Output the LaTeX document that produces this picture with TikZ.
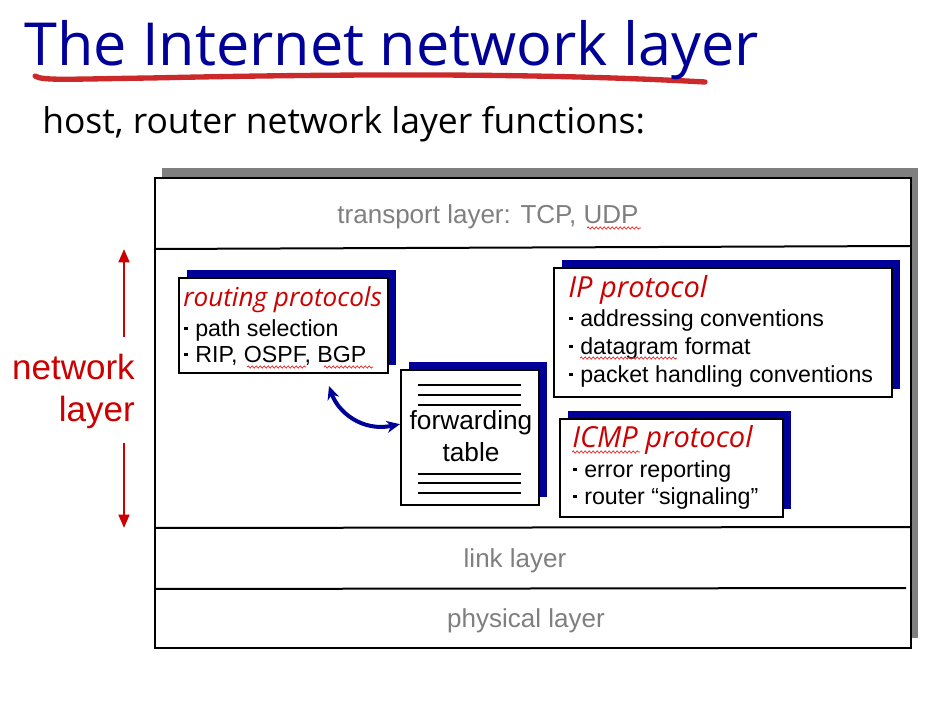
\documentclass[tikz,border=0pt]{standalone}
\usepackage{fontspec}
\setmainfont{Liberation Sans}
\newfontfamily\titlefont{Open Sans}
\usetikzlibrary{shadows,fit,decorations.pathmorphing,arrows.meta}
\definecolor{navy}{HTML}{000099}
\definecolor{netred}{HTML}{CC0000}
\definecolor{brushred}{HTML}{CC2A2A}
\definecolor{layergray}{HTML}{7F7F7F}
\definecolor{spellred}{HTML}{EE1111}
% small raised square bullet in front of each list entry
\newcommand{\bul}{\makebox[0.52em][l]{\hspace{0.05em}\raisebox{0.3em}{\rule{0.14em}{0.14em}}}}
\tikzset{
  x=0.75pt, y=-0.75pt,
  boxframe/.style={draw=black, line width=1.5pt, fill=white, inner sep=0pt},
  stackbox/.style={boxframe, drop shadow={shadow xshift=5.25pt, shadow yshift=7.5pt, fill=layergray, opacity=1}},
  protobox/.style={boxframe, drop shadow={shadow xshift=6pt, shadow yshift=6pt, fill=navy, opacity=1}},
  layertext/.style={anchor=base, inner sep=0pt, text=layergray, font=\fontsize{19.5}{20}\selectfont},
  headtext/.style={anchor=base west, inner sep=0pt, text=netred, font=\titlefont\itshape\fontsize{21.75}{22}\selectfont},
  itemtext/.style={anchor=base west, inner sep=0pt, font=\fontsize{17.4}{18}\selectfont},
  ftline/.style={line width=1.5pt},
  spell/.style={draw=spellred, line width=0.5pt, decorate, decoration={snake, amplitude=0.8pt, segment length=3pt}},
  netarrow/.style={draw=netred, line width=2pt, -{Triangle[length=10pt,width=8pt]}},
  linkarrow/.style={draw=navy, line width=3pt, {Stealth[length=10pt,width=9pt]}-{Stealth[length=10pt,width=9pt]}},
}
\begin{document}
\begin{tikzpicture}
\useasboundingbox[fill=white] (0,0) rectangle (951,702);

% heading with its brush underline
\draw[brushred, line width=4pt, line cap=round] (35,76) .. controls (42,81) and (70,79) .. (150,78) .. controls (380,73) and (560,74) .. (705,82);
\node[anchor=base west, inner sep=0pt, text=navy, font=\titlefont\fontsize{44.5}{46}\selectfont] (title) at (24,66) {The Internet network layer};
\node[anchor=base west, inner sep=0pt, font=\titlefont\fontsize{26.6}{28}\selectfont] (subtitle) at (42,134) {host, router network layer functions:};

% protocol stack
\node[stackbox, fit={(155,178) (911,648)}] (stack) {};
\draw[line width=1.5pt] (155,249) -- (911,246);
\draw[line width=1.5pt] (155,528) -- (911,527);
\draw[line width=1.5pt] (155,589) -- (906,588);

\node[layertext] (transport) at (488,224) {transport layer: TCP, UDP};
\draw[spell] (587,228) -- (641,228);
\node[layertext] (link) at (515,568) {link layer};
\node[layertext] (physical) at (526,628) {physical layer};

% extent of the network layer
\node[anchor=base east, inner sep=0pt, text=netred, font=\fontsize{26.25}{30}\selectfont] (netword) at (135,380) {network};
\node[anchor=base east, inner sep=0pt, text=netred, font=\fontsize{26.25}{30}\selectfont] (layerword) at (135,422) {layer};
\coordinate (upTop) at (124,249);
\coordinate (upBot) at (124,337);
\coordinate (dnTop) at (124,443);
\coordinate (dnBot) at (124,528);
\draw[netarrow] (upBot) -- (upTop);
\draw[netarrow] (dnTop) -- (dnBot);

% routing protocols
\node[protobox, fit={(179,278) (388,373)}] (routing) {};
\node[headtext, font=\titlefont\itshape\fontsize{19.6}{20}\selectfont] (rphead) at (183,307) {routing protocols};
\node[itemtext] (rp1) at (183,337) {\bul path selection};
\node[itemtext] (rp2) at (183,363) {\bul RIP, OSPF, BGP};
\draw[spell] (247,367) -- (306,367);
\draw[spell] (324,367) -- (373,367);

% forwarding table
\node[protobox, fit={(401,370) (539,505)}] (fwd) {};
\foreach \y in {385,395,405,474,483,493} \draw[ftline] (418,\y) -- (521,\y);
\node[anchor=base, inner sep=0pt, font=\fontsize{19.7}{20}\selectfont] (fwdA) at (471,430) {forwarding};
\node[anchor=base, inner sep=0pt, font=\fontsize{19.7}{20}\selectfont] (fwdB) at (471,462) {table};

\coordinate (rpTip) at (329,386);
\draw[linkarrow] (rpTip) .. controls (338,412) and (362,432) .. ([yshift=10pt]fwd.west);

% IP protocol
\node[protobox, fit={(554,268) (892,397)}] (ip) {};
\node[headtext] (iphead) at (568,298) {IP protocol};
\node[itemtext] (ip1) at (568,327) {\bul addressing conventions};
\node[itemtext] (ip2) at (568,355) {\bul datagram format};
\node[itemtext] (ip3) at (568,383) {\bul packet handling conventions};
\draw[spell] (580,358) -- (677,358);

% ICMP protocol
\node[protobox, fit={(560,419) (783,517)}] (icmp) {};
\node[headtext] (icmphead) at (572,448) {ICMP protocol};
\node[itemtext] (icmp1) at (572,478) {\bul error reporting};
\node[itemtext] (icmp2) at (572,505) {\bul router “signaling”};
\draw[spell] (572,452) -- (640,452);
\end{tikzpicture}
\end{document}
